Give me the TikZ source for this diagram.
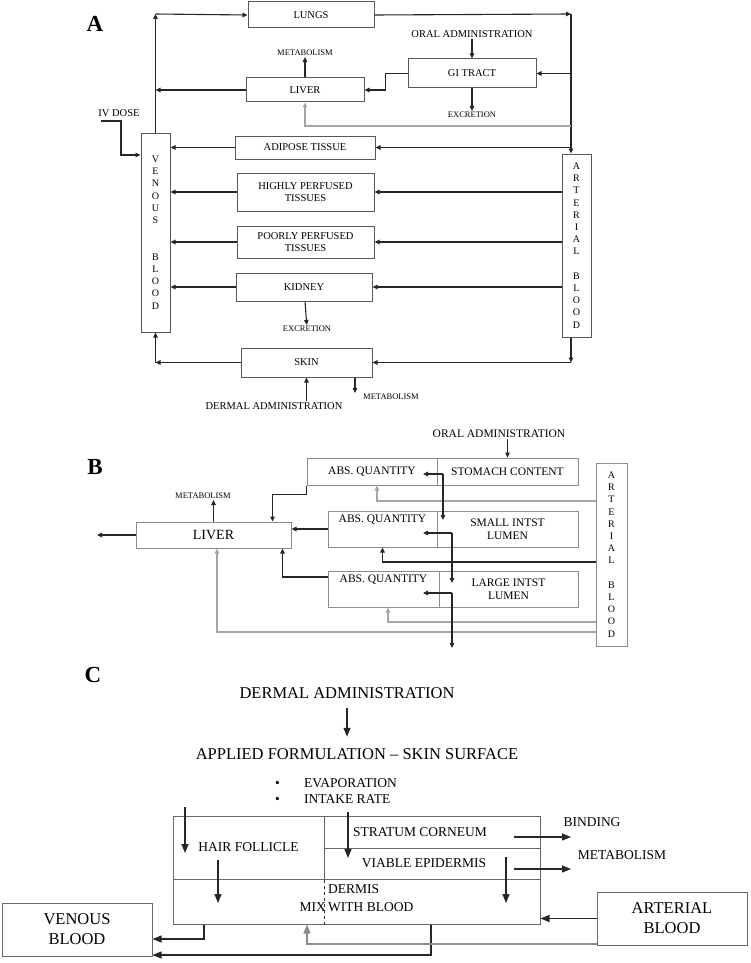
\documentclass[tikz,border=0pt]{standalone}
\usepackage{fontspec}
\setmainfont{Liberation Serif}
\usetikzlibrary{arrows.meta, positioning}

\begin{document}
\begin{tikzpicture}[x=1pt, y=-1pt,
    box/.style={draw=black!65, line width=1pt, inner sep=1pt, align=center, font=\fontsize{10.5}{12.5}\selectfont},
    boxB/.style={box, draw=black!45, font=\fontsize{11.5}{12.5}\selectfont},
    boxC/.style={box, draw=black!60, font=\fontsize{13.5}{18}\selectfont},
    stack/.style={box, font=\fontsize{10}{12.2}\selectfont},
    txt/.style={inner sep=1pt, font=\fontsize{10.5}{12}\selectfont},
    txtB/.style={inner sep=1pt, font=\fontsize{11.5}{13}\selectfont},
    txtM/.style={inner sep=1pt, font=\fontsize{13.5}{18}\selectfont},
    txtC/.style={inner sep=1pt, align=center, font=\fontsize{16.5}{20}\selectfont},
    smalltxt/.style={inner sep=1pt, font=\fontsize{8.5}{10}\selectfont},
    toptxt/.style={anchor=north, inner sep=1pt, yshift=-3pt, font=\fontsize{11.5}{12.5}\selectfont},
    panel/.style={inner sep=0pt, font=\fontsize{23}{23}\bfseries\selectfont},
    arr/.style={draw=black!85, line width=1.1pt, -{Triangle[length=5pt,width=4.5pt]}},
    faint/.style={draw=black!35},
    bigarr/.style={draw=black!85, line width=1.2pt, -{Triangle[length=9pt,width=7pt]}}]

\useasboundingbox (0,0) rectangle (750,963);

% A: whole body
\node (labA) [panel] at (95,24) {A};
\node (lungs) [box, minimum width=126pt, minimum height=26pt] at (311,15) {LUNGS};
\node (liver) [box, minimum width=118pt, minimum height=24pt] at (305,90) {LIVER};
\node (gi) [box, minimum width=128pt, minimum height=29pt] at (472,73.5) {GI TRACT};
\node (oral) [txt] at (472,34) {ORAL ADMINISTRATION};
\node (excrA) [smalltxt] at (472,115) {EXCRETION};
\node (metabA) [smalltxt] at (305,53) {METABOLISM};
\node (adipose) [box, minimum width=140pt, minimum height=23pt] at (305,147.5) {ADIPOSE TISSUE};
\node (highly) [box, minimum width=137pt, minimum height=38pt] at (305.5,192) {HIGHLY PERFUSED\\TISSUES};
\node (poorly) [box, minimum width=137pt, minimum height=32pt] at (305.5,242) {POORLY PERFUSED\\TISSUES};
\node (kidney) [box, minimum width=136pt, minimum height=28pt] at (304,287) {KIDNEY};
\node (excrK) [smalltxt] at (307,329) {EXCRETION};
\node (skin) [box, minimum width=131pt, minimum height=29pt] at (306.5,362.5) {SKIN};
\node (dermalA) [txt] at (274,406) {DERMAL ADMINISTRATION};
\node (metabS) [smalltxt] at (391,397) {METABOLISM};
\node (ivdose) [txt] at (119,113) {IV DOSE};
\node (venous) [stack, minimum width=29pt, minimum height=199pt] at (155.5,232.5) {V\\E\\N\\O\\U\\S\\[24.5pt]B\\L\\O\\O\\D};
\node (arterial) [stack, minimum width=29pt, minimum height=183pt] at (576.5,245.5) {A\\R\\T\\E\\R\\I\\A\\L\\[12.2pt]B\\L\\O\\O\\D};

\coordinate (vtop) at (155.5,14);
\coordinate (atop) at (571,14);
\coordinate (ivin) at (101,121);

\draw[arr] (venous.north) -- (vtop);
\draw[arr] (vtop) -- (lungs.west);
\draw[arr] (lungs.east) -- (atop);
\draw[arr] (atop) -- (atop |- arterial.north);
\draw[arr] (atop |- gi.east) -- (gi.east);
\draw[arr] (oral) -- (gi);
\draw[arr] (gi) -- (excrA);
\draw[arr] (gi.west) -- ++(-22,0) |- (liver.east);
\draw[arr] (liver) -- (metabA);
\draw[arr] (liver.west) -- (liver.west -| vtop);
\draw[arr, faint] (atop |- 0,126) -| (liver.south);
\draw[arr] (atop |- adipose.east) -- (adipose.east);
\draw[arr] (adipose.west) -- (adipose.west -| venous.east);
\foreach \org in {highly, poorly, kidney} {
  \draw[arr] (\org.east -| arterial.west) -- (\org.east);
  \draw[arr] (\org.west) -- (\org.west -| venous.east);
}
\draw[arr] (kidney) -- (excrK);
\draw[arr] (atop |- arterial.south) -- (atop |- skin.east);
\draw[arr] (atop |- skin.east) -- (skin.east);
\draw[arr] (skin.west) -- (skin.west -| vtop);
\draw[arr] (skin.west -| vtop) -- (venous.south);
\draw[arr] (dermalA.north -| skin.south) -- (skin.south);
\draw[arr] ([xshift=48.5pt]skin.south) -- ([xshift=48.5pt]skin.south |- metabS.north);
\draw[arr] (ivin) -- (121,121) -- (121,155) -- (venous.west |- 0,155);

% B: gut
\node (labB) [panel] at (95,467) {B};
\node (absS) [boxB, minimum width=130pt, minimum height=27pt] at (372,471.5) {ABS. QUANTITY};
\node (stomach) [boxB, minimum width=141pt, minimum height=27pt] at (507.5,471.5) {STOMACH CONTENT};
\node (absSI) [boxB, minimum width=109pt, minimum height=36pt, label={[toptxt]north:ABS. QUANTITY}] at (382.5,529) {};
\node (smallI) [boxB, minimum width=141pt, minimum height=36pt] at (507.5,529) {SMALL INTST\\LUMEN};
\node (absLI) [boxB, minimum width=111pt, minimum height=36pt, label={[toptxt]north:ABS. QUANTITY}] at (383.5,589) {};
\node (largeI) [boxB, minimum width=139pt, minimum height=36pt] at (508.5,589) {LARGE INTST\\LUMEN};
\node (liverB) [boxB, minimum width=155pt, minimum height=26pt, font=\fontsize{14}{16}\selectfont] at (213.5,535) {LIVER};
\node (arterialB) [stack, draw=black!45, minimum width=31pt, minimum height=183pt] at (611.5,554.5) {A\\R\\T\\E\\R\\I\\A\\L\\[12.2pt]B\\L\\O\\O\\D};
\node (oralB) [txtB] at (499,434) {ORAL ADMINISTRATION};
\node (metabB) [smalltxt] at (203,496) {METABOLISM};

\coordinate (liverout) at (97,535);
\coordinate (sp1) at (443,474);
\coordinate (sp2) at (452,533);
\coordinate (sp3) at (452,593);

\draw[arr] (oralB.south -| stomach.north) -- (stomach.north);
\draw[arr] (liverB.north) -- (liverB.north |- metabB.south);
\draw[arr] (liverB.west) -- (liverout);
\draw[arr] (absS.south west) -- ++(0,9) -| ([xshift=-19pt]liverB.north east);
\draw[arr] (absSI.west) -- (absSI.west -| liverB.east);
\draw[arr] ([yshift=12pt]absLI.west) -| ([xshift=-9pt]liverB.south east);
\draw[arr, faint] (arterialB.west |- 0,501) -| ([xshift=5pt]absS.south);
\draw[arr] (arterialB.west |- 0,562) -| (absSI.south);
\draw[arr, faint] (arterialB.west |- 0,622) -| ([xshift=4.5pt]absLI.south);
\draw[arr, faint] (arterialB.west |- 0,632) -| ([xshift=3.5pt]liverB.south);
\draw[arr] (sp1) -- ++(-20,0);
\draw[arr] (sp1) -- ++(0,46);
\draw[arr] (sp2) -- ++(-29,0);
\draw[arr] (sp2) -- ++(0,50);
\draw[arr] (sp3) -- ++(-29,0);
\draw[arr] (sp3) -- ++(0,55);

% C: skin
\node (labC) [panel] at (93,675) {C};
\node (dermalC) [txtC] at (347,693) {DERMAL ADMINISTRATION};
\node (applied) [txtC] at (357,754) {APPLIED FORMULATION -- SKIN SURFACE};
\node (surface) [txtM, anchor=west, align=left, font=\fontsize{13.5}{16}\selectfont] at (274,791) {\makebox[29pt][l]{\textbullet}EVAPORATION\\\makebox[29pt][l]{\textbullet}INTAKE RATE};
\node (follicle) [boxC, minimum width=151pt, minimum height=63pt] at (248.5,847.5) {HAIR FOLLICLE};
\node (corneum) [boxC, minimum width=216pt, minimum height=32pt, label={[txtM, xshift=-12pt]center:STRATUM CORNEUM}] at (432,832) {};
\node (epidermis) [boxC, minimum width=216pt, minimum height=31pt, label={[txtM, xshift=-8pt]center:VIABLE EPIDERMIS}] at (432,863.5) {};
\node (dermis) [boxC, minimum width=367pt, minimum height=45pt] at (356.5,901.5) {};
\node (dermistxt) [txtM, anchor=west, align=left] at (327,898) {DERMIS\\WITH BLOOD};
\node (mixtxt) [txtM, anchor=east] at (327,907) {MIX};
\node (arterialC) [boxC, font=\fontsize{16.5}{20}\selectfont, minimum width=150pt, minimum height=53pt] at (672,918.5) {ARTERIAL\\BLOOD};
\node (venousC) [boxC, font=\fontsize{16.5}{20}\selectfont, minimum width=150pt, minimum height=53pt] at (77,929.5) {VENOUS\\BLOOD};
\node (binding) [txtM] at (592,822) {BINDING};
\node (metabC) [txtM] at (622,855) {METABOLISM};

\draw[dashed, draw=black!80, line width=0.9pt] (follicle.south east) -- (follicle.south east |- dermis.south);

\coordinate (hfin) at (185,807);
\coordinate (scin) at (348,812);
\coordinate (hfdown) at (218,860);
\coordinate (vedown) at (506,857);
\coordinate (bindout) at (514,837);
\coordinate (metout) at (514,869);

\draw[bigarr, shorten <=8.5pt, shorten >=10.5pt] (dermalC.south) -- (dermalC.south |- applied.north);
\draw[bigarr] (hfin) -- ++(0,46);
\draw[bigarr] (scin) -- ++(0,46);
\draw[bigarr] (hfdown) -- ++(0,43);
\draw[bigarr] (vedown) -- ++(0,46);
\draw[bigarr] (bindout) -- ++(57,0);
\draw[bigarr] (metout) -- ++(57,0);
\draw[bigarr] (arterialC.west) -- (arterialC.west -| dermis.east);
\draw[bigarr] ([xshift=-152.5pt]dermis.south) |- ([yshift=-9.5pt]venousC.east);
\draw[bigarr] ([xshift=74.5pt]dermis.south) |- ([yshift=-25.5pt]venousC.east);
\draw[bigarr, draw=black!45] ([yshift=-25.5pt]arterialC.west) -| ([xshift=-49.5pt]dermis.south);
\end{tikzpicture}
\end{document}
